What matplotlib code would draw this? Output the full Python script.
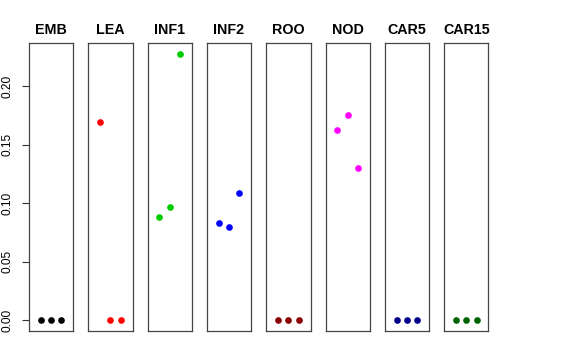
import matplotlib
matplotlib.use("Agg")
import matplotlib.pyplot as plt

# tissues and their three replicate values
tissues = ["EMB", "LEA", "INF1", "INF2", "ROO", "NOD", "CAR5", "CAR15"]
emb = [0.0, 0.0, 0.0]
lea = [0.169, 0.0, 0.0]
inf1 = [0.0882, 0.0964, 0.2276]
inf2 = [0.0831, 0.0794, 0.1089]
roo = [0.0, 0.0, 0.0]
nod = [0.1622, 0.1752, 0.1303]
car5 = [0.0, 0.0, 0.0]
car15 = [0.0, 0.0, 0.0]
values = [emb, lea, inf1, inf2, roo, nod, car5, car15]
replicate = [1, 2, 3]
colors = ["black", "#FF0000", "#00CD00", "#0000FF", "#8B0000", "#FF00FF", "#00008B", "#006400"]
yticks = [0.0, 0.05, 0.10, 0.15, 0.20]

plt.rcParams["font.family"] = ["Liberation Sans", "DejaVu Sans"]

fig = plt.figure(figsize=(5.76, 3.6), dpi=100)
W, H = 576.0, 360.0

ymax = max(max(v) for v in values)
ylo, yhi = -0.04 * ymax, ymax * 1.04

for i, (name, vals, col) in enumerate(zip(tissues, values, colors)):
    left = 29 + i * 59.3
    ax = fig.add_axes([left / W, (H - 331) / H, 44.3 / W, 288 / H])
    ax.plot(replicate, vals, "o", color=col, markersize=4.8, markeredgewidth=0)
    ax.set_xlim(-0.16, 4.16)
    ax.set_ylim(ylo, yhi)
    ax.set_xticks([])
    for s in ax.spines.values():
        s.set_linewidth(0.9)
        s.set_color("#444444")
    ax.set_title(name, fontsize=10.3, fontweight="bold", pad=6.5)
    if i == 0:
        ax.set_yticks(yticks)
        ax.set_yticklabels(["%.2f" % t for t in yticks], rotation=90, va="center",
                           fontsize=8.6)
        ax.tick_params(axis="y", length=5.2, width=0.8, pad=6, colors="#333333",
                       labelcolor="black")
    else:
        ax.set_yticks([])

fig.savefig("out.png", dpi=100)
